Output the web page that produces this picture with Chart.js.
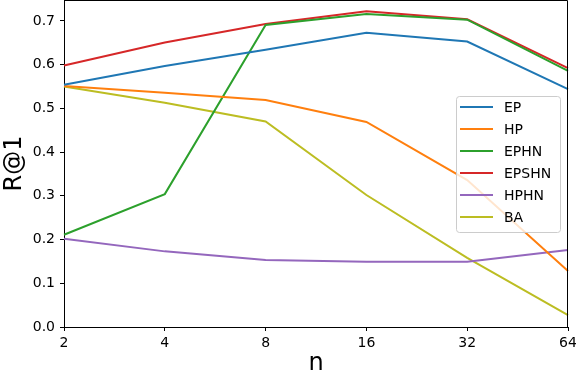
<!DOCTYPE html>
<html>
<head>
<meta charset="utf-8">
<script src="https://cdn.jsdelivr.net/npm/chart.js@4"></script>
<style>
  html, body { margin: 0; padding: 0; background: #fff; }
  #wrap { width: 576px; height: 378px; }
</style>
</head>
<body>
<div id="wrap"><canvas id="chart" width="576" height="378"></canvas></div>
<script>
const nValues = ['2', '4', '8', '16', '32', '64'];
const yTicks = [0, 0.1, 0.2, 0.3, 0.4, 0.5, 0.6, 0.7];

const ep    = [0.554, 0.597, 0.634, 0.673, 0.653, 0.544];
const hp    = [0.551, 0.536, 0.519, 0.469, 0.336, 0.128];
const ephn  = [0.211, 0.304, 0.691, 0.716, 0.703, 0.586];
const epshn = [0.598, 0.651, 0.693, 0.722, 0.704, 0.592];
const hphn  = [0.202, 0.173, 0.153, 0.149, 0.149, 0.176];
const ba    = [0.550, 0.513, 0.470, 0.302, 0.158, 0.027];

const font = 'DejaVu Sans';

function line(label, data, color) {
    return {
        label: label,
        data: data,
        borderColor: color,
        backgroundColor: color,
        borderWidth: 2,
        pointRadius: 0,
        tension: 0,
        fill: false
    };
}

// matplotlib-style box + legend inside the plot
const frameAndLegend = {
    id: 'frameAndLegend',
    afterDatasetsDraw(chart) {
        const { ctx, chartArea: a } = chart;
        ctx.save();
        ctx.strokeStyle = '#000';
        ctx.lineWidth = 1;
        ctx.beginPath();
        ctx.moveTo(a.left, a.top + 0.5);
        ctx.lineTo(a.right - 0.5, a.top + 0.5);
        ctx.lineTo(a.right - 0.5, a.bottom);
        ctx.stroke();

        const x0 = 456, y0 = 96, w = 104, h = 136;
        ctx.fillStyle = 'rgba(255,255,255,0.8)';
        ctx.strokeStyle = '#cccccc';
        ctx.beginPath();
        ctx.roundRect(x0 + 0.5, y0 + 0.5, w, h, 3);
        ctx.fill();
        ctx.stroke();

        ctx.font = '14px "' + font + '"';
        ctx.textBaseline = 'middle';
        ctx.fillStyle = '#000';
        chart.data.datasets.forEach((ds, i) => {
            const y = y0 + 11 + i * 22;
            ctx.strokeStyle = ds.borderColor;
            ctx.lineWidth = 2;
            ctx.beginPath();
            ctx.moveTo(x0 + 4, y);
            ctx.lineTo(x0 + 37, y);
            ctx.stroke();
            ctx.fillText(ds.label, x0 + 48, y + 1);
        });
        ctx.restore();
    }
};

new Chart(document.getElementById('chart').getContext('2d'), {
    type: 'line',
    data: {
        labels: nValues,
        datasets: [
            line('EP', ep, '#1f77b4'),
            line('HP', hp, '#ff7f0e'),
            line('EPHN', ephn, '#2ca02c'),
            line('EPSHN', epshn, '#d62728'),
            line('HPHN', hphn, '#9467bd'),
            line('BA', ba, '#bcbd22')
        ]
    },
    options: {
        responsive: false,
        animation: false,
        layout: { padding: { top: 0, right: 8, left: 0, bottom: 0 } },
        plugins: {
            legend: { display: false },
            tooltip: { enabled: false }
        },
        scales: {
            x: {
                type: 'category',
                offset: false,
                grid: { drawOnChartArea: false, drawTicks: true, tickLength: 4, color: '#000' },
                border: { display: true, color: '#000', width: 1 },
                ticks: { color: '#000', font: { family: font, size: 14 }, padding: 4, maxRotation: 0 },
                title: { display: true, text: 'n', color: '#000', font: { family: font, size: 24 }, padding: { top: 0, bottom: 0 } },
                afterFit(scale) {
                    scale.height = 51;
                    scale.paddingLeft = 0;
                    scale.paddingRight = 0;
                }
            },
            y: {
                min: 0,
                max: 0.748,
                grid: { drawOnChartArea: false, drawTicks: true, tickLength: 4, color: '#000' },
                border: { display: true, color: '#000', width: 1 },
                afterBuildTicks(scale) { scale.ticks = yTicks.map(v => ({ value: v })); },
                ticks: {
                    color: '#000',
                    font: { family: font, size: 14 },
                    padding: 5,
                    callback: function(value) { return value.toFixed(1); }
                },
                title: { display: true, text: 'R@1', color: '#000', font: { family: font, size: 24 }, padding: { top: 0, bottom: 0 } },
                afterFit(scale) {
                    scale.width = 64;
                    scale.paddingTop = 0;
                    scale.paddingBottom = 0;
                }
            }
        }
    },
    plugins: [frameAndLegend]
});
</script>
</body>
</html>
